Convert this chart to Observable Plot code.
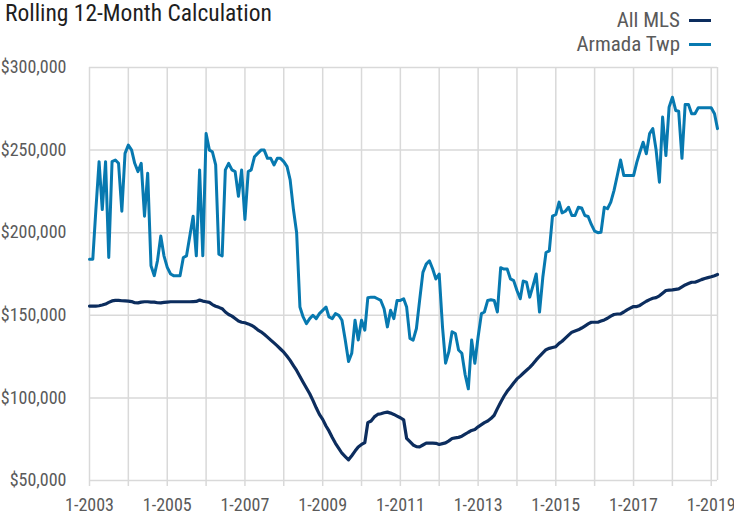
<!DOCTYPE html>
<html>
<head>
<meta charset="utf-8">
<script src="https://cdn.jsdelivr.net/npm/d3@7"></script>
<script src="https://cdn.jsdelivr.net/npm/@observablehq/plot@0.6"></script>
<style>
  body { margin: 0; background: #fff; }
  #wrap { position: relative; width: 734px; height: 515px; font-family: "Liberation Sans Narrow", "Arial Narrow", "Roboto Condensed", "DejaVu Sans Condensed", sans-serif; }
  #title { position: absolute; left: 5px; top: 0px; font-size: 23.5px; color: #1e1e1e; line-height: 26px; white-space: nowrap; }
  .leg { position: absolute; right: 23px; display: flex; align-items: center; font-size: 21px; color: #5a5a5a; line-height: 24px; white-space: nowrap; }
  .sw { display: inline-block; width: 22px; height: 3px; margin-left: 9px; }
  #chart { position: absolute; left: 0; top: 0; }
</style>
</head>
<body>
<div id="wrap">
  <div id="chart"></div>
  <div id="title">Rolling 12-Month Calculation</div>
  <div class="leg" style="top:8px;"><span>All MLS</span><span class="sw" style="background:#0c2d5e"></span></div>
  <div class="leg" style="top:32px;"><span>Armada Twp</span><span class="sw" style="background:#0779b0"></span></div>
</div>
<script>
// Monthly rolling 12-month values (thousands of dollars), starting 1-2003, ending 3-2019
const startYear = 2003;
const seriesNames = ["All MLS", "Armada Twp"];
const seriesColors = ["#0c2d5e", "#0779b0"];

const allMlsK = [
  155.6,155.6,155.6,155.8,156.2,156.8,157.8,158.7,159,159,158.8,158.7,
  158.6,158.3,157.6,157.5,158,158.2,158.2,158,158,157.6,157.5,157.8,
  158,158.2,158.2,158.2,158.2,158.2,158.2,158.2,158.3,158.4,159.2,158.6,
  158.2,157.8,156.5,155.5,154.8,154,152,150.5,149.5,148,146.5,145.8,
  145.5,144.8,144,142.8,141.2,140,138.5,136.8,135,133.3,131.5,129.6,
  127.7,125.2,122.7,119.6,116.6,113,109.5,106,102.5,98.5,94,90,
  87,83,80,76,72.5,69.5,66.5,64.5,62.5,65,67.8,70.3,
  71.8,73,85,86,88.5,90,90.4,91,91.4,90.8,90,89,
  88,86.7,75.5,73.5,71.5,70.5,70.4,71.5,72.6,72.6,72.6,72.5,
  71.8,72.3,72.8,74,75.4,75.8,76.1,76.8,78,79.2,80.3,80.9,
  82.5,83.8,85,86,87.5,89.5,93.5,97.4,101,104,106.5,109,
  111.5,113.2,114.9,116.7,118.5,120.6,123,125.2,127.2,129.2,130,130.5,
  131,133,134.3,136.2,138,139.8,140.5,141.2,142.3,143.5,144.8,145.8,
  145.8,145.8,146.5,147.2,148.2,149.5,150.5,150.8,150.9,152,153.3,154.3,
  155.3,155.3,156,157.3,158.5,159.5,160.3,160.7,161.8,163.4,165,165.2,
  165.4,165.7,166,167.2,168.4,169.2,170,170,170.8,171.6,172.3,172.8,
  173.3,174,174.7
];

const armadaK = [
  184,184,213,243,214,243,185,243,244,242,213,248,
  253,250,242,237,242,210,236,180,174,183,198,186,
  179,175,174,174,174,185,186,198,210,186,238,186,
  260,250,249,241,187,186,238,242,238,237,222,238,
  208,237,238,246,248,250,250,245,245,241,245,245,
  243,240,232,214,200,155,149,145,148,150,148,151,
  153,155,149,148,151,150,147,135,122,127,147,135,
  147,141,160.6,161,161,160,159,154,143,153,148,159,
  159,160,155,136,135,142,159,176,181,183,178,172,
  175,143,121,128,140,139,129,127,114,105.5,135,121,
  137,151,152,159,159.4,159,152,178.8,178,178,172,171,
  165,160,170.7,170,161,168,175,152,173,188,189,210,
  211,218.5,212,213,215.4,210.4,210.4,215.4,215,210.4,209.8,205,
  201,200,200.3,215.4,214.5,218.5,225.5,234.6,244,234.6,234.6,234.6,
  234.6,242.7,248.7,254.8,247.8,260,263,250,230.6,270,246.7,276,
  282,274,273.5,245,277.6,277.6,272,272,275.6,275.6,275.6,275.6,
  275.6,272,263
];

const yTickValues = [50000, 100000, 150000, 200000, 250000, 300000];
const gridYears = d3.range(2003, 2020);
const labelYears = [2003, 2005, 2007, 2009, 2011, 2013, 2015, 2017, 2019];

const monthDate = i => new Date(Date.UTC(startYear, i, 1));
const rows = [];
allMlsK.forEach((v, i) => rows.push({series: seriesNames[0], date: monthDate(i), value: v * 1000}));
armadaK.forEach((v, i) => rows.push({series: seriesNames[1], date: monthDate(i), value: v * 1000}));

const xStart = monthDate(0);
const xEnd = monthDate(allMlsK.length - 1);
const gridDates = gridYears.map(y => new Date(Date.UTC(y, 0, 1)));
const labelDates = labelYears.map(y => new Date(Date.UTC(y, 0, 1)));

const gridColor = "#d9d9d9";
const textColor = "#5a5a5a";

const chart = Plot.plot({
  width: 734,
  height: 515,
  marginLeft: 89,
  marginRight: 17,
  marginTop: 67,
  marginBottom: 35,
  style: { fontFamily: '"Liberation Sans Narrow", "Arial Narrow", "Roboto Condensed", "DejaVu Sans Condensed", sans-serif', fontSize: "18px", background: "transparent", overflow: "visible" },
  x: { type: "utc", domain: [xStart, xEnd], label: null },
  y: { domain: [50000, 300000], label: null },
  color: { domain: seriesNames, range: seriesColors },
  marks: [
    Plot.ruleY(yTickValues, { stroke: gridColor, strokeWidth: 1.5 }),
    Plot.ruleX(gridDates, { stroke: gridColor, strokeWidth: 1.5 }),
    Plot.ruleX([xEnd], { stroke: gridColor, strokeWidth: 1.5 }),
    Plot.axisX({ ticks: gridDates, tickSize: 6, tickFormat: () => "", stroke: gridColor, strokeWidth: 1.5, label: null }),
    Plot.axisX({ ticks: labelDates, tickSize: 0, tickPadding: 18, tickFormat: d => `1-${d.getUTCFullYear()}`, fill: textColor, fontSize: 18, label: null }),
    Plot.axisY({ ticks: yTickValues, tickSize: 0, tickPadding: 23, tickFormat: d3.format("$,"), fill: textColor, fontSize: 18, label: null }),
    Plot.line(rows.filter(d => d.series === seriesNames[1]), { x: "date", y: "value", stroke: "series", strokeWidth: 3, strokeLinejoin: "round", strokeLinecap: "round" }),
    Plot.line(rows.filter(d => d.series === seriesNames[0]), { x: "date", y: "value", stroke: "series", strokeWidth: 3.2, strokeLinejoin: "round", strokeLinecap: "round" })
  ]
});
document.getElementById("chart").appendChild(chart);
</script>
</body>
</html>
